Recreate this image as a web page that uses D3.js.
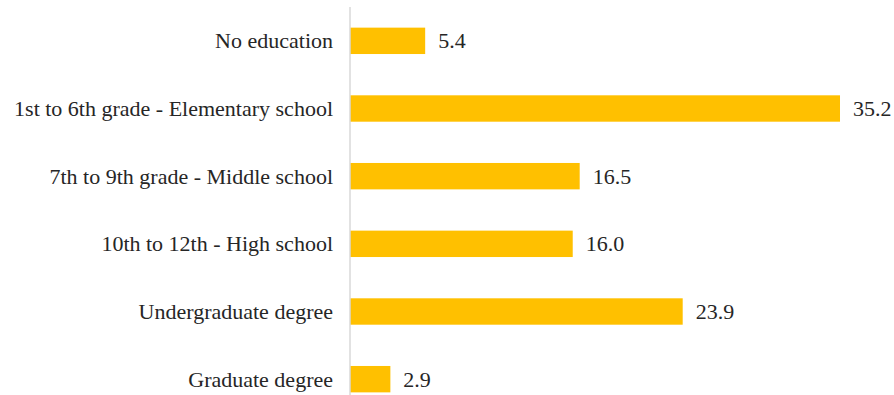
<!DOCTYPE html>
<html><head><meta charset="utf-8">
<script src="https://cdn.jsdelivr.net/npm/d3@7"></script>
<style>body{margin:0;background:#fff}svg{display:block}
text{font-family:"Liberation Serif","Times New Roman","DejaVu Serif",serif;}</style>
</head><body>
<script>
const categories = ["No education","1st to 6th grade - Elementary school","7th to 9th grade - Middle school","10th to 12th - High school","Undergraduate degree","Graduate degree"];
const values = [5.4,35.2,16.5,16.0,23.9,2.9];

const W=894,H=395;
const svg=d3.select("body").append("svg").attr("width",W).attr("height",H);
const x0=350;
const x=d3.scaleLinear().domain([0,35.2]).range([x0,840]);
const y=d3.scaleBand().domain(categories).range([7,413]).paddingInner(0.61).paddingOuter(0.305);

svg.append("g").selectAll("rect").data(values).join("rect")
  .attr("x",x(0)).attr("y",(d,i)=>y(categories[i]))
  .attr("width",d=>x(d)-x(0)).attr("height",y.bandwidth())
  .attr("fill","#FFC000");

svg.append("line").attr("x1",x0).attr("x2",x0).attr("y1",7).attr("y2",H)
  .attr("stroke","#d9d9d9").attr("stroke-width",1.5);

const fs=22;
svg.append("g").selectAll("text").data(categories).join("text")
  .attr("x",x0-17).attr("y",d=>y(d)+y.bandwidth()/2)
  .attr("text-anchor","end").attr("dominant-baseline","central")
  .attr("font-size",fs).attr("fill","#262626")
  .text(d=>d);

svg.append("g").selectAll("text").data(values).join("text")
  .attr("x",d=>x(d)+13).attr("y",(d,i)=>y(categories[i])+y.bandwidth()/2)
  .attr("dominant-baseline","central")
  .attr("font-size",fs).attr("fill","#262626")
  .text(d=>d.toFixed(1));
</script>
</body></html>
